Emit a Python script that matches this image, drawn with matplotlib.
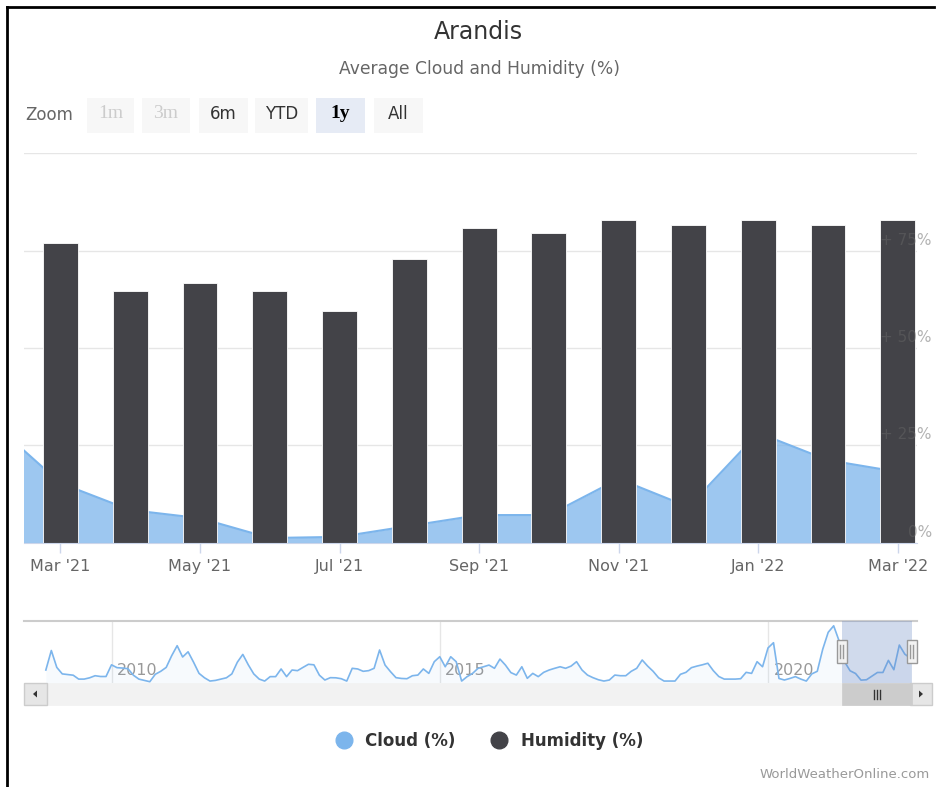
import matplotlib
matplotlib.use('Agg')
import matplotlib.pyplot as plt
from matplotlib.patches import Rectangle, Polygon
from matplotlib.lines import Line2D
from matplotlib.transforms import blended_transform_factory
import numpy as np

# ---------------- data ----------------
cloud_months = ["Feb '21", "Mar '21", "Apr '21", "May '21", "Jun '21", "Jul '21", "Aug '21",
                "Sep '21", "Oct '21", "Nov '21", "Dec '21", "Jan '22", "Feb '22", "Mar '22"]
cloud = [31.3, 15.3, 8.4, 6.3, 1.2, 1.5, 4.3, 7.1, 7.1, 16.4, 9.2, 28.2, 21.2, 18.2]

humidity_months = cloud_months[1:]
humidity = [76.9, 64.7, 66.8, 64.7, 59.5, 72.8, 80.8, 79.6, 82.9, 81.6, 82.9, 81.6, 82.9]

tick_labels = ["Mar '21", "May '21", "Jul '21", "Sep '21", "Nov '21", "Jan '22", "Mar '22"]
y_ticks = [0, 25, 50, 75]
y_tick_labels = ["0%", "+ 25%", "+ 50%", "+ 75%"]

# monthly cloud history Jan 2009 .. Jan 2021 (navigator)
cloud_history = [
    9, 24, 11, 6, 5.5, 5, 2, 2, 3, 4.6, 4, 4,
    13, 10.8, 10.5, 10, 5, 2, 1, 0, 5.7, 8, 11, 20,
    27.7, 19, 23, 15, 6.4, 3, 0.5, 1, 2, 3, 6, 15,
    21, 13, 6, 2, 0.5, 3.9, 3.9, 9.8, 3.9, 9, 8.5, 11,
    13.4, 13, 5, 1.3, 3.1, 3, 2.3, 0.5, 10.3, 9.8, 8, 8.5,
    10.3, 24.4, 12.8, 7.7, 3.1, 2.5, 2.3, 4.6, 5.1, 9.8, 6.4, 15.4,
    19.2, 11.5, 19.2, 15.4, 0.5, 3.9, 6.4, 10.3, 11.5, 12.8, 10.3, 17.4,
    12.8, 7, 5.1, 11.5, 2.6, 6.4, 3.9, 7.2, 9, 10.3, 11.5, 10.3,
    12, 15.4, 9, 5.1, 3.1, 1.5, 0.5, 1.3, 5.1, 4.6, 4.6, 8,
    10.3, 16.7, 12, 8, 3, 0.5, 0.5, 0.5, 5.7, 7.2, 10.8, 12,
    13, 14.2, 8.5, 4, 2, 2, 2, 2.3, 7.2, 6.4, 15.4, 11.5,
    26, 30, 2.5, 1.3, 2.5, 3.9, 2, 0.5, 6, 8, 25, 38, 43,
]
nav_start_year = 2009
nav_years = ["2010", "2015", "2020"]

title = "Arandis"
subtitle = "Average Cloud and Humidity (%)"
zoom_buttons = ["1m", "3m", "6m", "YTD", "1y", "All"]
legend_labels = ["Cloud (%)", "Humidity (%)"]
credit = "WorldWeatherOnline.com"

# ---------------- layout helpers ----------------
W, H = 938, 787
fig = plt.figure(figsize=(W / 100, H / 100), dpi=100)
fig.patch.set_facecolor('white')


def fx(px):
    return px / W


def fy(py):
    return 1 - py / H


def prect(x0, y0, x1, y1, **kw):
    r = Rectangle((fx(x0), fy(y1)), (x1 - x0) / W, (y1 - y0) / H,
                  transform=fig.transFigure, **kw)
    fig.add_artist(r)
    return r


def pline(xs, ys, **kw):
    l = Line2D([fx(x) for x in xs], [fy(y) for y in ys], transform=fig.transFigure, **kw)
    fig.add_artist(l)
    return l


CLOUD = '#7cb5ec'
HUM = '#434348'

# border
pline([7, 7], [7, 787], color='black', lw=2)
pline([7, 934], [7, 7], color='black', lw=2)

# title / subtitle
fig.text(fx(478), fy(32), title, ha='center', va='center', fontsize=17, color='#333333')
fig.text(fx(479), fy(69), subtitle, ha='center', va='center', fontsize=12.3, color='#666666')

# zoom buttons
fig.text(fx(25), fy(115), "Zoom", ha='left', va='center', fontsize=12, color='#666666')
btn_x = [(87, 134), (142, 190), (199, 248), (255, 308), (316, 365), (374, 423)]
for (x0, x1), lab in zip(btn_x, zoom_buttons):
    if lab == "1y":
        face, col, fw, fam = '#e6ebf5', '#000000', 'bold', 'Liberation Serif'
    elif lab in ("1m", "3m"):
        face, col, fw, fam = '#f7f7f7', '#cccccc', 'normal', 'Liberation Serif'
    else:
        face, col, fw, fam = '#f7f7f7', '#333333', 'normal', 'DejaVu Sans'
    prect(x0, 98, x1, 133, facecolor=face, edgecolor='none')
    fs = 14 if fam == 'Liberation Serif' else 12
    fig.text(fx((x0 + x1) / 2), fy(114), lab, ha='center', va='center', fontsize=fs,
             color=col, fontweight=fw, family=fam)

# ---------------- main chart ----------------
ax_left, ax_right, ax_bottom, ax_top = 24, 917, 542.7, 153.4
ax = fig.add_axes([fx(ax_left), fy(ax_bottom), (ax_right - ax_left) / W, (ax_bottom - ax_top) / H])
ax.set_facecolor('none')

xc = np.arange(len(cloud)) - 1
xh = np.arange(len(humidity))

ax.fill_between(xc, cloud, 0, color=CLOUD, alpha=0.75, lw=0, zorder=1)
ax.plot(xc, cloud, color=CLOUD, lw=1.5, zorder=1.5)
ax.bar(xh, humidity, width=0.5, color=HUM, edgecolor='white', linewidth=0.6, zorder=2)

ax.set_xlim(-0.523, 12.275)
ax.set_ylim(0, 100)
ax.set_yticks([0, 25, 50, 75, 100])
ax.yaxis.grid(True, color='#e6e6e6', lw=1)
ax.set_axisbelow(True)
ax.tick_params(axis='y', left=False, labelleft=False)
for s in ['left', 'right', 'top']:
    ax.spines[s].set_visible(False)
ax.spines['bottom'].set_color('#ccd6eb')
ax.spines['bottom'].set_zorder(3)

ax.set_xticks(np.arange(0, len(humidity), 2))
ax.set_xticklabels(tick_labels, fontsize=11.5, color='#666666')
ax.tick_params(axis='x', length=7, width=1, color='#ccd6eb', pad=5)

trans = blended_transform_factory(ax.transAxes, ax.transData)
for v, lab in zip(y_ticks, y_tick_labels):
    ax.text(1.0 + 15 / (ax_right - ax_left), v + 0.8, lab, transform=trans, ha='right',
            va='bottom', fontsize=11, color='#666666', alpha=0.5, zorder=5, clip_on=False)

# ---------------- navigator ----------------
nav_series = cloud_history + cloud[1:]  # Feb '21 onward already in history? no: history ends Jan '21
nav_series = cloud_history + cloud
mx = np.arange(len(nav_series))
px_per_m = 5.471
m0_px = 45.85
nav_l, nav_r, nav_t, nav_b = 24, 917, 621, 683
nav = fig.add_axes([fx(nav_l), fy(nav_b), (nav_r - nav_l) / W, (nav_b - nav_t) / H])
nxl = ((nav_l - m0_px) / px_per_m, (nav_r - m0_px) / px_per_m)
nav.set_xlim(*nxl)
nav.set_ylim(-1, 46.7)
nav.set_facecolor('none')
for s in ['left', 'right', 'bottom']:
    nav.spines[s].set_visible(False)
nav.spines['top'].set_color('#cccccc')
nav.spines['top'].set_linewidth(1.5)
nav.set_xticks([])
nav.set_yticks([])

for yr in nav_years:
    m = (int(yr) - nav_start_year) * 12
    nav.axvline(m, color='#e6e6e6', lw=1, zorder=0)
    nav.text(m + 1.0, 9, yr, ha='left', va='center', fontsize=11.5, color='#999999', zorder=1)

nav.fill_between(mx, nav_series, -1, color=CLOUD, alpha=0.06, lw=0, zorder=1)
nav.plot(mx, nav_series, color=CLOUD, lw=1.2, zorder=2)

# selected window (same as main x range), offset: main x=0 is Mar '21
offset = len(cloud_history) + 1
sel0 = ax.get_xlim()[0] + offset
sel1 = ax.get_xlim()[1] + offset
nav.axvspan(sel0, sel1, color=(102 / 255, 133 / 255, 194 / 255), alpha=0.3, lw=0, zorder=3)


def m_to_px(m):
    return nav_l + (m - nxl[0]) / (nxl[1] - nxl[0]) * (nav_r - nav_l)


p0, p1 = m_to_px(sel0), m_to_px(sel1)

# scrollbar
prect(24, 683, 932, 705, facecolor='#f2f2f2', edgecolor='#f2f2f2', lw=0.5)
prect(24, 683, 47, 705, facecolor='#e6e6e6', edgecolor='#cccccc', lw=1)
prect(910, 683, 932, 705, facecolor='#e6e6e6', edgecolor='#cccccc', lw=1)
fig.add_artist(Polygon([(fx(33), fy(694)), (fx(37), fy(690.5)), (fx(37), fy(697.5))],
                       closed=True, facecolor='#333333', edgecolor='none', transform=fig.transFigure))
fig.add_artist(Polygon([(fx(923), fy(694)), (fx(919), fy(690.5)), (fx(919), fy(697.5))],
                       closed=True, facecolor='#333333', edgecolor='none', transform=fig.transFigure))
prect(p0, 683, p1, 705, facecolor='#cccccc', edgecolor='#cccccc', lw=0.5)
cx = (p0 + p1) / 2
for dx in (-3, 0, 3):
    pline([cx + dx, cx + dx], [689.5, 698.5], color='#333333', lw=1)

# handles
for hx in (p0, p1):
    prect(hx - 5, 640, hx + 5, 663, facecolor='#f2f2f2', edgecolor='#999999', lw=1, zorder=5)
    for dx in (-1.5, 1.5):
        pline([hx + dx, hx + dx], [645, 658], color='#999999', lw=1, zorder=6)

# ---------------- legend ----------------
handles = [Line2D([], [], marker='o', ls='', color=CLOUD, markersize=12),
           Line2D([], [], marker='o', ls='', color=HUM, markersize=12)]
leg = fig.legend(handles, legend_labels, loc='center', bbox_to_anchor=(fx(485), fy(741)),
                 ncol=2, frameon=False, handletextpad=0.3, columnspacing=1.6,
                 prop={'weight': 'bold', 'size': 12})
for t in leg.get_texts():
    t.set_color('#333333')

fig.text(fx(930), fy(775), credit, ha='right', va='center', fontsize=9.5, color='#999999')

fig.savefig('out.png', dpi=100, facecolor='white')
